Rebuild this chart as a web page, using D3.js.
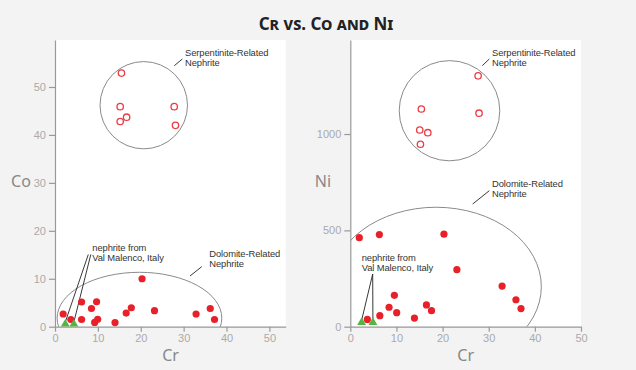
<!DOCTYPE html>
<html>
<head>
<meta charset="utf-8">
<script src="https://cdn.jsdelivr.net/npm/d3@7"></script>
<style>
body { margin: 0; background: #f3f3f3; }
.tick text { font-family: "Liberation Sans", Arial, sans-serif; font-size: 11px; fill: #aaa; }
.axis path, .axis line { stroke: #999; stroke-width: 1.2; }
.note { font-family: "Liberation Sans", Arial, sans-serif; font-size: 9.4px; letter-spacing: -0.1px; fill: #333; }
.axtitle { font-family: "Noto Sans", sans-serif; font-size: 16px; fill: #888; }
.title { font-family: "Noto Sans", sans-serif; font-size: 17px; font-weight: bold; fill: #222; font-variant: small-caps; }
</style>
</head>
<body>
<div class="plot"></div>
<script>
// Tick values
var crTicks = [0, 10, 20, 30, 40, 50];
var coTicks = [0, 10, 20, 30, 40, 50];
var niTicks = [0, 500, 1000];

// Samples as [Cr, Co] and [Cr, Ni]
var dolomiteCo = [[1.9, 2.65], [3.7, 1.5], [6.2, 5.15], [6.2, 1.5], [8.5, 3.8], [9.7, 5.2],
    [9.25, 0.9], [9.95, 1.55], [14, 0.85], [16.6, 2.85], [17.8, 3.95], [20.3, 10],
    [23.2, 3.35], [32.9, 2.65], [36.2, 3.8], [37.2, 1.5]];
var serpentiniteCo = [[15.5, 52.9], [15.2, 45.9], [16.7, 43.7], [15.2, 42.8], [27.8, 45.9], [28.1, 42]];
var malencoCo = [[2.4, 0.55], [4.4, 0.55]];

var dolomiteNi = [[1.95, 462], [6.3, 478], [20.3, 480], [23.1, 296], [32.9, 211], [35.9, 140],
    [37, 94], [9.55, 163], [8.4, 101], [10.05, 73], [16.5, 113], [17.6, 83], [13.9, 45],
    [6.4, 57], [3.7, 38]];
var serpentiniteNi = [[27.7, 1302], [27.9, 1108], [15.4, 1130], [15.05, 1021], [16.8, 1007], [15.2, 947]];
var malencoNi = [[2.45, 22], [4.9, 22]];

// Fields drawn round each group: [centre Cr, centre value, radius Cr, radius value]
var serpFieldCo = [20.7, 46.2, 10.2, 9.1];
var doloFieldCo = [19.7, 1.8, 19.2, 9.55];
var serpFieldNi = [21.5, 1121, 10.9, 260];
var doloFieldNi = [18.6, 208, 22.8, 412];

var plotTop = 40, plotBottom = 326.7;

var svg = d3.select(".plot").append("svg")
    .attr("width", 636)
    .attr("height", 370);

svg.append("text")
    .attr("class", "title")
    .attr("x", 326)
    .attr("y", 30)
    .attr("text-anchor", "middle")
    .text("Cr vs. Co and Ni");

var panels = [
    {id: "co", left: 55, right: 285.7, crMax: 53.8, yMax: 59.8, yTicks: coTicks, yLabel: "Co",
     yLabelX: 21, crLabelX: 170.5, dolo: dolomiteCo, serp: serpentiniteCo, malenco: malencoCo,
     serpField: serpFieldCo, doloField: doloFieldCo,
     serpNote: [185, 55.7], serpLead: [[174.3, 65.7], [182.3, 59]],
     doloNote: [209.3, 256.7], doloLead: [[190, 276], [201.7, 266.7]],
     malNote: [92.3, 250.7], malLead: [[88.3, 254.5], [90.8, 254.5]]},
    {id: "ni", left: 350.3, right: 581, crMax: 50, yMax: 1488, yTicks: niTicks, yLabel: "Ni",
     yLabelX: 323, crLabelX: 465.7, dolo: dolomiteNi, serp: serpentiniteNi, malenco: malencoNi,
     serpField: serpFieldNi, doloField: doloFieldNi,
     serpNote: [492, 55.7], serpLead: [[482.3, 65.7], [489.3, 59]],
     doloNote: [492, 186.7], doloLead: [[472.7, 204], [489.3, 190.7]],
     malNote: [361.7, 260.7], malLead: [[372.7, 274], [372.7, 274]]}
];

panels.forEach(function (p) {
    var x = d3.scaleLinear().domain([0, p.crMax]).range([p.left, p.right]);
    var y = d3.scaleLinear().domain([0, p.yMax]).range([plotBottom, plotTop]);

    // White plot area
    svg.append("rect")
        .attr("x", p.left)
        .attr("y", plotTop)
        .attr("width", p.right - p.left)
        .attr("height", plotBottom - plotTop)
        .attr("fill", "white");

    svg.append("clipPath")
        .attr("id", "clip-" + p.id)
        .append("rect")
        .attr("x", p.left)
        .attr("y", plotTop)
        .attr("width", p.right - p.left)
        .attr("height", plotBottom - plotTop);

    // Fields
    [p.serpField, p.doloField].forEach(function (f) {
        svg.append("ellipse")
            .attr("clip-path", "url(#clip-" + p.id + ")")
            .attr("cx", x(f[0]))
            .attr("cy", y(f[1]))
            .attr("rx", x(f[2]) - x(0))
            .attr("ry", y(0) - y(f[3]))
            .attr("fill", "none")
            .attr("stroke", "#8a8a8a")
            .attr("stroke-width", 1);
    });

    // Axes
    svg.append("g")
        .attr("class", "axis")
        .attr("transform", "translate(0," + plotBottom + ")")
        .call(d3.axisBottom(x).tickValues(crTicks).tickSize(5).tickSizeOuter(0).tickPadding(3));

    svg.append("g")
        .attr("class", "axis")
        .attr("transform", "translate(" + p.left + ",0)")
        .call(d3.axisLeft(y).tickValues(p.yTicks).tickFormat(d3.format("d"))
            .tickSize(6).tickSizeOuter(0).tickPadding(3));

    svg.append("text")
        .attr("class", "axtitle")
        .attr("x", p.yLabelX)
        .attr("y", 187)
        .attr("text-anchor", "middle")
        .text(p.yLabel);

    svg.append("text")
        .attr("class", "axtitle")
        .attr("x", p.crLabelX)
        .attr("y", 361)
        .attr("text-anchor", "middle")
        .text("Cr");

    // Leader lines to Val Malenco samples
    p.malenco.forEach(function (d, i) {
        svg.append("line")
            .attr("x1", p.malLead[i][0])
            .attr("y1", p.malLead[i][1])
            .attr("x2", x(d[0]))
            .attr("y2", y(d[1]) - 2)
            .attr("stroke", "#222")
            .attr("stroke-width", 0.9);
    });

    // Serpentinite samples
    svg.selectAll(".serp-" + p.id)
        .data(p.serp)
        .enter().append("circle")
        .attr("class", "serp-" + p.id)
        .attr("cx", d => x(d[0]))
        .attr("cy", d => y(d[1]))
        .attr("r", 3.2)
        .attr("fill", "white")
        .attr("stroke", "#ec3b44")
        .attr("stroke-width", 1.3);

    // Dolomite samples
    svg.selectAll(".dolo-" + p.id)
        .data(p.dolo)
        .enter().append("circle")
        .attr("class", "dolo-" + p.id)
        .attr("cx", d => x(d[0]))
        .attr("cy", d => y(d[1]))
        .attr("r", 3.6)
        .attr("fill", "#e8202a");

    // Val Malenco samples
    svg.selectAll(".mal-" + p.id)
        .data(p.malenco)
        .enter().append("path")
        .attr("class", "mal-" + p.id)
        .attr("transform", d => "translate(" + x(d[0]) + "," + y(d[1]) + ")")
        .attr("d", d3.symbol(d3.symbolTriangle, 34))
        .attr("fill", "#56b447");

    // Notes
    function note(pos, lines) {
        var t = svg.append("text").attr("class", "note");
        lines.forEach(function (s, i) {
            t.append("tspan").attr("x", pos[0]).attr("y", pos[1] + i * 10).text(s);
        });
    }
    function lead(seg) {
        svg.append("line")
            .attr("x1", seg[0][0]).attr("y1", seg[0][1])
            .attr("x2", seg[1][0]).attr("y2", seg[1][1])
            .attr("stroke", "#222")
            .attr("stroke-width", 0.9);
    }
    note(p.serpNote, ["Serpentinite-Related", "Nephrite"]);
    lead(p.serpLead);
    note(p.doloNote, ["Dolomite-Related", "Nephrite"]);
    lead(p.doloLead);
    note(p.malNote, ["nephrite from", "Val Malenco, Italy"]);
});
</script>
</body>
</html>
